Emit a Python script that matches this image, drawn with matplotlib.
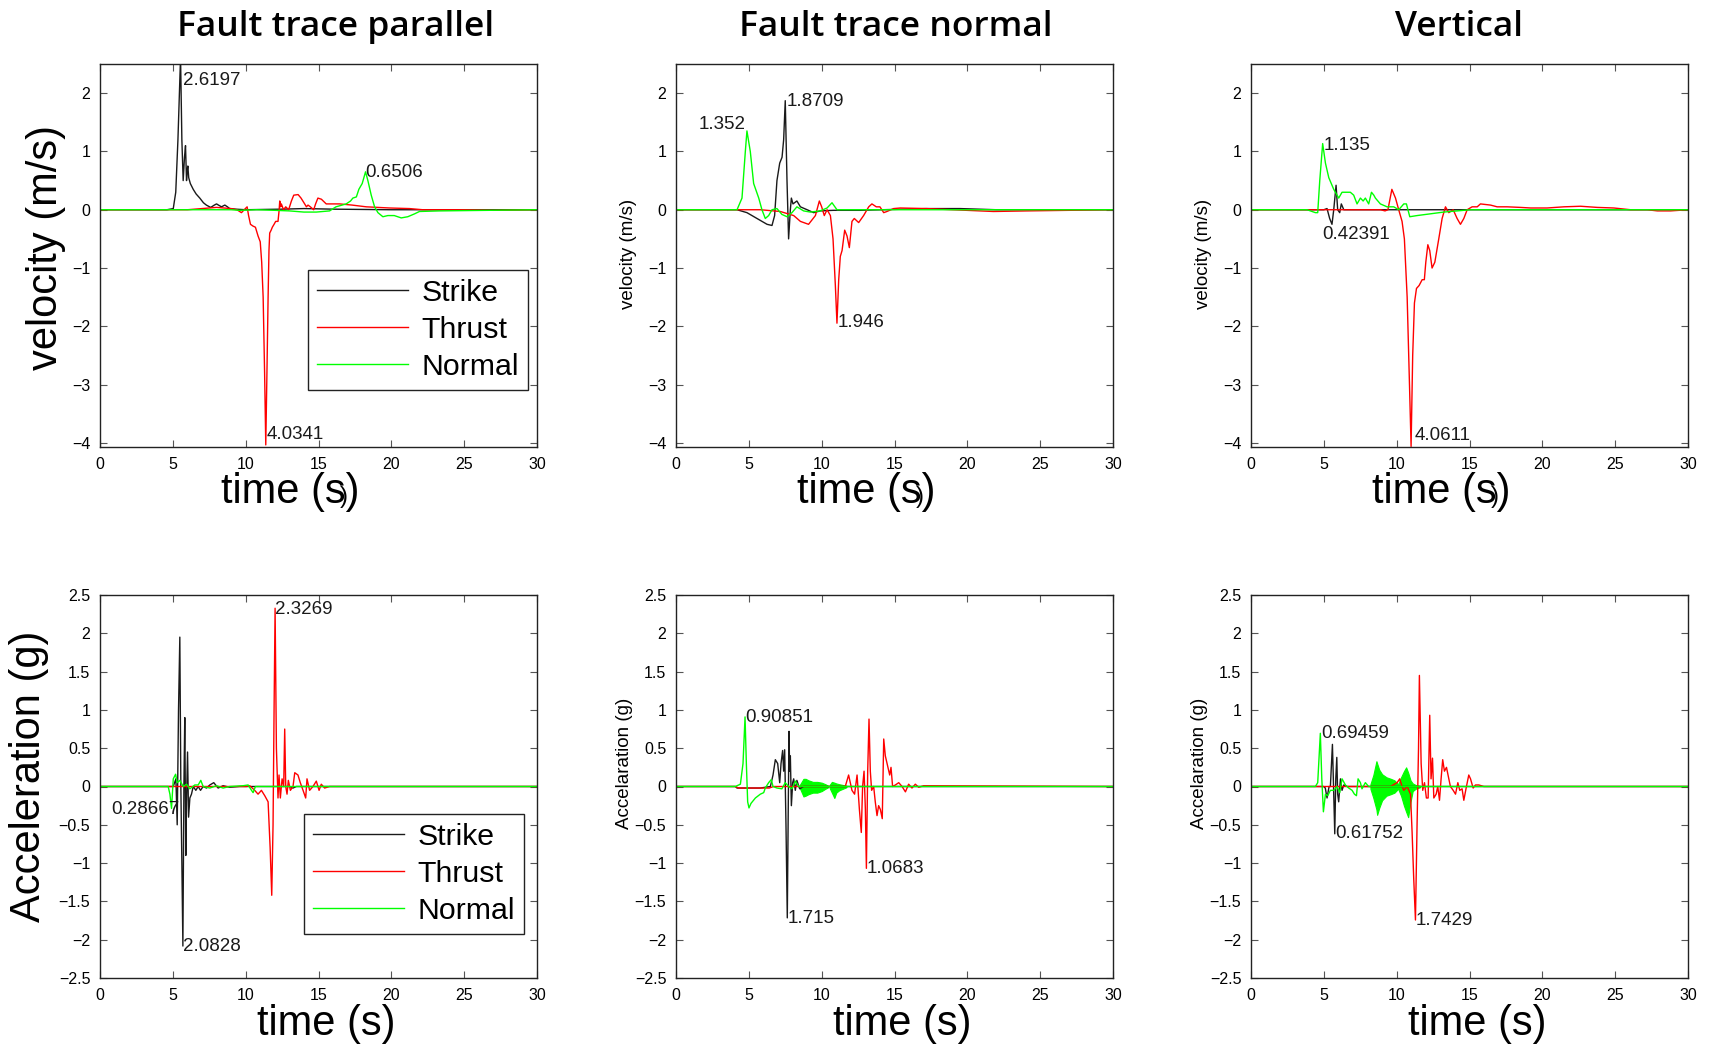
import matplotlib
matplotlib.use("Agg")
import matplotlib.pyplot as plt
import numpy as np

# ------------------------------------------------------------------ data
col_titles = ["Fault trace parallel", "Fault trace normal", "Vertical"]
series_names = ["Strike", "Thrust", "Normal"]
series_colors = ["#1a1a1a", "#ff0000", "#00ff00"]
time_ticks = [0, 5, 10, 15, 20, 25, 30]
vel_ticks = [-4, -3, -2, -1, 0, 1, 2]
acc_ticks = [-2.5, -2, -1.5, -1, -0.5, 0, 0.5, 1, 1.5, 2, 2.5]
vel_ylim = (-4.07, 2.5)
acc_ylim = (-2.5, 2.5)

# ---- velocity, fault trace parallel
vp_strike = [(0, 0), (4.6, 0), (5.03, 0.02), (5.2, 0.3), (5.35, 1.2), (5.53, 2.6197), (5.62, 1.2),
             (5.71, 0.5), (5.8, 0.9), (5.87, 1.1), (5.94, 0.5), (6.0, 0.7), (6.03, 0.75), (6.09, 0.55),
             (6.2, 0.45), (6.4, 0.35), (6.6, 0.27), (6.85, 0.2), (7.1, 0.12), (7.3, 0.08), (7.6, 0.04),
             (7.85, 0.08), (8.0, 0.1), (8.2, 0.07), (8.34, 0.05), (8.57, 0.08), (8.75, 0.05), (8.9, 0.02),
             (9.3, 0.01), (10, 0), (12.5, 0.01), (14, 0.02), (16, 0.01), (20, 0), (30, 0)]
vp_thrust = [(0, 0), (6.0, 0), (7.0, 0.02), (8.0, 0.04), (9.0, 0.02), (9.4, 0.0), (9.71, -0.05), (9.9, 0.0),
             (10.1, 0.05), (10.2, -0.1), (10.33, -0.25), (10.5, -0.28), (10.67, -0.3), (10.85, -0.45),
             (11.0, -0.55), (11.1, -0.9), (11.2, -1.5), (11.3, -2.8), (11.38, -4.0341), (11.46, -2.8),
             (11.54, -1.5), (11.6, -0.7), (11.65, -0.4), (11.75, -0.35), (11.83, -0.3), (11.95, -0.25),
             (12.06, -0.2), (12.22, -0.2), (12.3, 0.0), (12.34, 0.15), (12.4, 0.05), (12.45, 0.1),
             (12.6, 0.0), (12.75, 0.05), (12.95, 0.0), (13.14, 0.15), (13.3, 0.25), (13.6, 0.26),
             (13.8, 0.2), (14.05, 0.1), (14.17, 0.05), (14.28, 0.08), (14.44, 0.05), (14.67, 0.0),
             (14.8, 0.1), (14.96, 0.2), (15.2, 0.18), (15.53, 0.1), (16.45, 0.1), (17.3, 0.08),
             (18.28, 0.05), (19.88, 0.03), (21.25, 0.02), (22.16, 0.0), (25, 0.0), (27, -0.01), (30, 0.0)]
vp_normal = [(0, 0), (9.0, 0), (9.6, -0.01), (10.74, 0), (12.0, -0.01), (13.0, -0.02), (14.0, -0.04),
             (14.85, -0.04), (15.76, -0.02), (16.2, 0.05), (16.9, 0.1), (17.2, 0.15), (17.36, 0.2),
             (17.6, 0.22), (17.77, 0.35), (18.0, 0.45), (18.23, 0.6506), (18.39, 0.5), (18.62, 0.25),
             (18.85, 0.05), (19.08, -0.05), (19.42, -0.12), (19.76, -0.1), (20.2, -0.1), (20.68, -0.14),
             (21.13, -0.12), (21.6, -0.07), (21.93, -0.03), (23.3, -0.02), (26.7, -0.01), (30, 0)]

# ---- velocity, fault trace normal
vn_strike = [(0, 0), (4.19, 0), (4.87, -0.05), (5.56, -0.15), (6.25, -0.25), (6.59, -0.27), (6.77, -0.1),
             (6.93, 0.5), (7.12, 0.8), (7.28, 0.9), (7.39, 1.2), (7.5, 1.8709), (7.62, 0.5), (7.73, -0.5),
             (7.85, 0.0), (7.92, 0.2), (8.03, 0.1), (8.3, 0.15), (8.54, 0.05), (9.0, 0.0), (9.45, -0.05),
             (9.9, -0.02), (10.8, -0.01), (12.65, -0.01), (17.2, 0.02), (19.5, 0.02), (22, 0.0), (30, 0)]
vn_thrust = [(0, 0), (5.8, 0), (7.16, -0.03), (8.08, -0.1), (8.54, -0.2), (9.1, -0.25), (9.57, -0.1),
             (9.84, 0.15), (10.0, 0.05), (10.18, -0.1), (10.37, 0.0), (10.6, -0.1), (10.78, -0.5),
             (10.94, -1.3), (11.05, -1.946), (11.17, -1.2), (11.28, -0.8), (11.4, -0.7), (11.58, -0.35),
             (11.74, -0.45), (11.9, -0.65), (12.08, -0.2), (12.24, -0.15), (12.54, -0.22), (12.88, -0.1),
             (13.23, 0.05), (13.45, 0.1), (13.75, 0.05), (14.0, 0.05), (14.26, -0.05), (14.48, -0.03),
             (14.94, 0.02), (15.4, 0.03), (17.2, 0.02), (19, 0.0), (21.8, -0.03), (24.1, -0.02),
             (27, -0.01), (30, 0)]
vn_normal = [(0, 0), (4.19, 0), (4.53, 0.2), (4.76, 1.0), (4.87, 1.352), (5.1, 1.0), (5.33, 0.45),
             (5.68, 0.2), (5.9, 0.0), (6.13, -0.15), (6.36, -0.1), (6.59, 0.0), (6.93, 0.02), (7.27, -0.08),
             (7.62, -0.12), (7.96, -0.05), (8.3, 0.05), (8.76, -0.02), (9.22, -0.04), (9.9, -0.02),
             (10.37, 0.03), (10.71, 0.12), (11.05, 0.0), (11.74, 0), (30, 0)]

# ---- velocity, vertical
vv_strike = [(0, 0), (5.0, 0), (5.22, 0.02), (5.4, -0.15), (5.56, -0.25), (5.68, 0.0), (5.84, 0.42),
             (5.95, 0.0), (6.09, -0.05), (6.2, 0.1), (6.37, 0.0), (30, 0)]
vv_thrust = [(0, 0), (7.7, 0), (8.9, 0.0), (9.2, -0.02), (9.4, 0.0), (9.67, 0.35), (9.92, 0.2), (10.14, 0.0),
             (10.37, -0.2), (10.53, -0.5), (10.72, -1.5), (10.88, -3.0), (10.99, -4.0611), (11.1, -2.5),
             (11.22, -1.6), (11.36, -1.35), (11.54, -1.3), (11.75, -1.2), (11.9, -1.2), (12.0, -0.9),
             (12.14, -0.6), (12.27, -0.7), (12.43, -1.0), (12.62, -0.9), (12.89, -0.5), (13.12, -0.15),
             (13.35, 0.05), (13.58, -0.05), (13.88, 0.0), (14.15, -0.15), (14.38, -0.25), (14.61, -0.15),
             (14.84, 0.0), (15.18, 0.05), (15.53, 0.05), (15.75, 0.1), (16.44, 0.08), (16.9, 0.05),
             (17.59, 0.05), (18.5, 0.04), (19.19, 0.03), (20.33, 0.03), (21.48, 0.05), (22.62, 0.06),
             (23.77, 0.04), (24.91, 0.03), (26.06, 0.0), (27.2, 0.0), (27.9, -0.02), (28.8, -0.02), (30, 0.0)]
vv_normal = [(0, 0), (3.85, 0), (4.42, -0.05), (4.58, -0.05), (4.72, 0.5), (4.92, 1.135), (5.11, 0.8),
             (5.34, 0.55), (5.68, 0.35), (6.02, 0.2), (6.25, 0.3), (6.48, 0.3), (6.82, 0.3), (7.05, 0.25),
             (7.28, 0.1), (7.51, 0.2), (7.7, 0.15), (7.85, 0.2), (8.08, 0.1), (8.27, 0.3), (8.43, 0.25),
             (8.54, 0.2), (8.88, 0.1), (9.34, 0.05), (9.8, 0.05), (10.14, 0.0), (10.49, 0.1), (10.67, 0.1),
             (10.9, -0.12), (11.4, -0.1), (12.32, -0.07), (13.23, -0.04), (14.15, -0.02), (15.07, 0.0), (30, 0)]

# ---- acceleration, fault trace parallel
ap_strike = [(0, 0), (5.03, 0), (5.21, 0.1), (5.3, -0.5), (5.39, 1.0), (5.48, 1.95), (5.55, 0.0), (5.62, -1.0),
             (5.69, -2.0828), (5.76, 0.0), (5.82, 0.9), (5.89, -0.9), (5.94, -0.2), (6.01, 0.45), (6.08, -0.4),
             (6.17, -0.15), (6.28, -0.1), (6.4, 0.0), (6.58, -0.05), (6.74, 0.0), (6.9, -0.05), (7.08, 0.0),
             (7.31, -0.02), (7.54, 0.02), (7.81, 0.05), (8.11, -0.02), (8.45, 0.01), (8.9, -0.01), (9.6, 0),
             (13.0, 0), (13.25, -0.02), (13.48, 0.0), (30, 0)]
ap_thrust = [(0, 0), (10.05, 0), (10.28, 0.01), (10.62, -0.05), (10.85, -0.1), (11.08, -0.05), (11.31, -0.12),
             (11.54, -0.2), (11.68, -0.8), (11.79, -1.42), (11.88, -0.5), (11.95, 1.0), (12.02, 2.3269),
             (12.11, 0.5), (12.22, -0.15), (12.29, 0.15), (12.38, -0.15), (12.5, 0.1), (12.61, 0.0),
             (12.68, 0.75), (12.75, 0.0), (12.84, -0.1), (12.93, 0.08), (13.07, -0.05), (13.25, 0.0),
             (13.37, 0.18), (13.59, 0.15), (13.75, 0.05), (13.94, -0.05), (14.12, -0.15), (14.21, 0.1),
             (14.39, -0.05), (14.62, 0.0), (14.85, 0.07), (15.04, -0.05), (15.19, 0.03), (15.42, -0.02),
             (15.76, 0.0), (30, 0)]
ap_normal = [(0, 0), (4.68, 0), (4.8, -0.1), (4.91, -0.28667), (5.03, 0.1), (5.19, 0.16), (5.3, 0.05),
             (5.48, 0.08), (5.71, 0.0), (5.94, 0.03), (6.17, -0.03), (6.51, 0.02), (6.74, 0.02), (6.92, 0.08),
             (7.08, 0.0), (7.54, -0.02), (8.0, 0.01), (8.45, -0.02), (8.9, 0), (9.82, 0.01), (10.17, 0.02),
             (10.4, -0.05), (10.51, -0.08), (10.67, 0.0), (11.2, 0), (30, 0)]

# ---- acceleration, fault trace normal
an_strike = [(0, 0), (4.07, 0), (4.19, -0.02), (5.79, -0.02), (6.48, 0.0), (6.66, 0.15), (6.82, 0.35),
             (6.98, 0.3), (7.12, 0.05), (7.21, 0.3), (7.32, 0.47), (7.39, 0.2), (7.46, 0.48), (7.55, -0.5),
             (7.64, -1.715), (7.71, -0.2), (7.76, 0.72), (7.8, 0.2), (7.85, 0.4), (7.92, -0.25), (8.01, 0.05),
             (8.08, 0.1), (8.19, -0.05), (8.3, 0.08), (8.49, -0.03), (8.76, 0.0), (30, 0)]
an_thrust = [(0, 0), (4.07, 0), (4.3, -0.02), (6.4, -0.02), (6.7, 0.0), (11.62, 0.0), (11.85, 0.15),
             (12.08, -0.05), (12.26, -0.1), (12.43, 0.15), (12.59, -0.3), (12.72, -0.6), (12.81, 0.0),
             (12.91, 0.2), (13.0, -0.3), (13.07, -1.0683), (13.16, 0.2), (13.25, 0.88), (13.34, 0.2),
             (13.43, -0.05), (13.57, 0.0), (13.68, -0.2), (13.8, -0.38), (13.91, -0.25), (14.03, -0.3),
             (14.16, -0.42), (14.26, 0.62), (14.37, 0.4), (14.55, 0.25), (14.67, 0.15), (14.76, 0.25),
             (14.87, 0.0), (15.06, 0.02), (15.29, 0.05), (15.52, 0.0), (15.75, -0.07), (15.97, 0.03),
             (16.2, -0.02), (16.43, 0.03), (16.66, -0.01), (17.0, 0.01), (30, 0)]
an_normal = [(0, 0), (4.07, 0), (4.42, 0.03), (4.6, 0.3), (4.74, 0.90851), (4.83, 0.3), (4.92, -0.2),
             (5.01, -0.28), (5.15, -0.22), (5.45, -0.15), (5.79, -0.1), (6.02, -0.08), (6.13, -0.02),
             (6.36, 0.05), (6.54, 0.09), (6.66, 0.0), (6.93, -0.02), (7.27, -0.03), (7.5, 0.05), (7.73, 0.0),
             (7.96, -0.03), (8.2, 0.07), (8.42, 0.0), (30, 0)]
# dense green oscillation bursts: (time, upper envelope, lower envelope)
an_burst1 = [(8.5, 0.02, -0.02), (8.75, 0.1, -0.13), (8.9, 0.1, -0.12), (9.1, 0.08, -0.1), (9.4, 0.06, -0.08),
             (9.7, 0.06, -0.08), (10.0, 0.05, -0.06), (10.25, 0.03, -0.03), (10.45, 0.01, -0.01)]
an_burst2 = [(10.55, 0.02, -0.02), (10.7, 0.06, -0.08), (10.87, 0.05, -0.15), (11.0, 0.04, -0.08),
             (11.2, 0.03, -0.05), (11.45, 0.02, -0.03), (11.7, 0.01, -0.01)]

# ---- acceleration, vertical
av_strike = [(0, 0), (4.99, 0), (5.1, -0.02), (5.22, -0.15), (5.36, 0.0), (5.45, 0.0), (5.59, 0.55),
             (5.68, -0.1), (5.75, -0.61752), (5.82, 0.1), (5.89, 0.38), (5.95, -0.1), (6.02, -0.2),
             (6.14, 0.1), (6.25, -0.05), (6.37, 0.02), (6.6, 0.0), (30, 0)]
av_thrust = [(0, 0), (9.57, 0), (10.03, 0.05), (10.21, 0.1), (10.37, 0.0), (10.49, -0.05), (10.72, 0.0),
             (10.95, -0.1), (11.06, -0.6), (11.17, -1.2), (11.29, -1.7429), (11.4, -0.5), (11.5, 0.5),
             (11.56, 1.45), (11.68, 0.3), (11.79, -0.05), (11.91, 0.05), (12.04, -0.15), (12.16, -0.15),
             (12.27, 0.93), (12.36, 0.1), (12.46, 0.37), (12.55, -0.15), (12.71, -0.1), (12.82, 0.0),
             (12.94, -0.18), (13.05, 0.1), (13.16, 0.35), (13.28, 0.2), (13.42, 0.25), (13.58, 0.1),
             (13.69, 0.0), (13.88, -0.05), (14.04, -0.1), (14.2, 0.05), (14.33, -0.05), (14.49, -0.03),
             (14.61, -0.18), (14.79, 0.0), (14.95, 0.15), (15.07, 0.1), (15.25, -0.02), (15.41, 0.02),
             (15.64, 0.02), (15.98, 0.0), (30, 0)]
av_normal = [(0, 0), (4.42, 0), (4.58, 0.05), (4.76, 0.69459), (4.86, 0.1), (4.97, -0.33), (5.11, -0.1),
             (5.27, -0.12), (5.45, -0.05), (5.68, -0.05), (5.91, 0.0), (6.09, -0.08), (6.25, 0.1),
             (6.48, 0.02), (6.71, -0.02), (6.94, -0.05), (7.1, -0.1), (7.24, -0.12), (7.35, 0.1),
             (7.51, 0.05), (7.62, -0.03), (7.85, 0.05), (8.08, 0.0), (30, 0)]
av_burst1 = [(8.2, 0.03, -0.03), (8.4, 0.15, -0.15), (8.61, 0.33, -0.3), (8.66, 0.3, -0.37), (8.8, 0.22, -0.28),
             (9.0, 0.16, -0.18), (9.3, 0.12, -0.12), (9.6, 0.1, -0.1), (9.85, 0.08, -0.08), (10.1, 0.03, -0.03)]
av_burst2 = [(10.1, 0.03, -0.03), (10.3, 0.12, -0.12), (10.5, 0.2, -0.25), (10.65, 0.25, -0.33),
             (10.79, 0.18, -0.4), (10.95, 0.08, -0.2), (11.1, 0.04, -0.06), (11.3, 0.02, -0.03),
             (11.6, 0.01, -0.01)]

# ---- peak annotations: (label, time, value, alignment)
vp_notes = [("2.6197", 5.71, 2.22, "left"), ("0.6506", 18.23, 0.64, "left"), ("4.0341", 11.42, -3.85, "left")]
vn_notes = [("1.352", 4.8, 1.46, "right"), ("1.8709", 7.57, 1.86, "left"), ("1.946", 11.1, -1.93, "left")]
vv_notes = [("1.135", 4.99, 1.11, "left"), ("0.42391", 4.9, -0.43, "left"), ("4.0611", 11.24, -3.87, "left")]
ap_notes = [("2.3269", 12.02, 2.31, "left"), ("0.28667", 5.45, -0.3, "right"), ("2.0828", 5.67, -2.09, "left")]
an_notes = [("0.90851", 4.76, 0.9, "left"), ("1.715", 7.69, -1.72, "left"), ("1.0683", 13.11, -1.07, "left")]
av_notes = [("0.69459", 4.79, 0.69, "left"), ("0.61752", 5.75, -0.62, "left"), ("1.7429", 11.31, -1.75, "left")]

# ------------------------------------------------------------------ figure
FONT = ["Liberation Sans", "DejaVu Sans"]
plt.rcParams["font.family"] = FONT
plt.rcParams["axes.unicode_minus"] = True

W, H = 1710, 1049
fig = plt.figure(figsize=(W / 100, H / 100), dpi=100)

col_left = [100, 676, 1251]
ax_w = 437
row_top = [64, 595]
ax_h = 383

panels = [
    [(vp_strike, vp_thrust, vp_normal, [], vp_notes),
     (vn_strike, vn_thrust, vn_normal, [], vn_notes),
     (vv_strike, vv_thrust, vv_normal, [], vv_notes)],
    [(ap_strike, ap_thrust, ap_normal, [], ap_notes),
     (an_strike, an_thrust, an_normal, [an_burst1, an_burst2], an_notes),
     (av_strike, av_thrust, av_normal, [av_burst1, av_burst2], av_notes)],
]

for r in range(2):
    for c in range(3):
        ax = fig.add_axes([col_left[c] / W, 1 - (row_top[r] + ax_h) / H, ax_w / W, ax_h / H])
        strike, thrust, normal, bursts, notes = panels[r][c]
        for data, name, col in zip((strike, thrust, normal), series_names, series_colors):
            arr = np.array(data, dtype=float)
            ax.plot(arr[:, 0], arr[:, 1], color=col, lw=1.0, label=name)
        for b in bursts:
            arr = np.array(b, dtype=float)
            ax.fill_between(arr[:, 0], arr[:, 2], arr[:, 1], color=series_colors[2], lw=0.8)
        for txt, x, y, ha in notes:
            ax.text(x, y, txt, ha=ha, va="center", fontsize=13.5, color="#1a1a1a", zorder=5)

        ax.set_xlim(0, 30)
        ax.set_xticks(time_ticks)
        if r == 0:
            ax.set_ylim(*vel_ylim)
            ax.set_yticks(vel_ticks)
        else:
            ax.set_ylim(*acc_ylim)
            ax.set_yticks(acc_ticks)
            ax.set_yticklabels([("%g" % v).replace("-", "\u2212") for v in acc_ticks])
        ax.tick_params(direction="in", top=True, right=True, length=5, width=0.8,
                       color="#555555", labelsize=11.5, pad=7)
        for sp in ax.spines.values():
            sp.set_linewidth(1.0)
            sp.set_color("#222222")

        # x label
        ax.set_xlabel("time (s)", fontsize=30)
        if r == 0:
            ax.xaxis.set_label_coords(0.436, -0.146)
            # stray overlapping glyph seen in the original top-row labels
            ax.text(0.558, -0.146, ")", transform=ax.transAxes, ha="center", va="baseline",
                    fontsize=17, color="black")
        else:
            ax.xaxis.set_label_coords(0.518, -0.149)
        ax.xaxis.label.set_va("baseline")

        # y label
        if c == 0:
            ax.set_ylabel("velocity (m/s)" if r == 0 else "Acceleration (g)", fontsize=30)
            if r == 0:
                ax.yaxis.set_label_coords(-0.123, 0.521)
            else:
                ax.yaxis.set_label_coords(-0.163, 0.527)
        else:
            ax.set_ylabel("velocity (m/s)" if r == 0 else "Accelaration (g)", fontsize=13.5)
            if r == 0:
                ax.yaxis.set_label_coords(-0.108, 0.504)
            else:
                ax.yaxis.set_label_coords(-0.117, 0.561)
        ax.yaxis.label.set_va("center")

        if c == 0:
            anchor = (0.979, 0.149) if r == 0 else (0.970, 0.115)
            leg = ax.legend(loc="lower right", bbox_to_anchor=anchor, fontsize=21.8,
                            handlelength=3.0, handletextpad=0.45, labelspacing=0.3,
                            borderpad=0.3, borderaxespad=0, fancybox=False,
                            edgecolor="#222222", framealpha=1)
            leg.get_frame().set_linewidth(1.0)

title_x = [336, 896, 1459]
for t, x in zip(col_titles, title_x):
    fig.text(x / W, 1 - 27 / H, t, ha="center", va="center", fontsize=25.5,
             family=["Open Sans", "DejaVu Sans"], weight=600)

fig.savefig("out.png", dpi=100)
